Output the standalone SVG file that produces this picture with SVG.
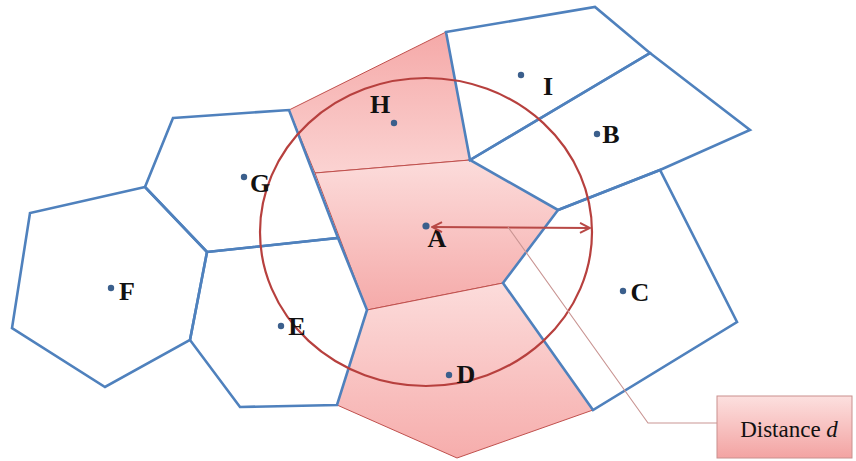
<svg xmlns="http://www.w3.org/2000/svg" width="856" height="461" viewBox="0 0 856 461">
<style>
.pink{stroke:#c0504d;stroke-width:1;stroke-linejoin:round}
.cell{fill:#ffffff;fill-opacity:0;stroke:#4f81bd;stroke-width:2.6;stroke-linejoin:miter}
.dot{fill:#3b5f8c}
.lbl{font-family:"Liberation Serif","Times New Roman",serif;font-weight:bold;font-size:26px;fill:#111;text-anchor:middle}
.ring{fill:none;stroke:#b7403e;stroke-width:2.2}
.con{fill:none;stroke:#b84946;stroke-width:2.2}
.lead{fill:none;stroke:#c99593;stroke-width:1.1}
</style>
<defs>
<linearGradient id="gH" x1="0" y1="0" x2="0" y2="1"><stop offset="0" stop-color="#f5a9a8"/><stop offset="1" stop-color="#fbd3d2"/></linearGradient>
<linearGradient id="gA" x1="0" y1="0" x2="0" y2="1"><stop offset="0" stop-color="#fcdcdb"/><stop offset="1" stop-color="#f5aaa9"/></linearGradient>
<linearGradient id="gD" x1="0" y1="0" x2="0" y2="1"><stop offset="0" stop-color="#fcdcdb"/><stop offset="1" stop-color="#f6adac"/></linearGradient>
<linearGradient id="gBox" x1="0" y1="0" x2="0" y2="1"><stop offset="0" stop-color="#fce0df"/><stop offset="1" stop-color="#f3a3a2"/></linearGradient>
<marker id="ah" viewBox="0 0 12 12" refX="11" refY="6" markerWidth="12" markerHeight="12" markerUnits="userSpaceOnUse" orient="auto-start-reverse">
<polyline points="1,1 11,6 1,11" fill="none" stroke="#b84946" stroke-width="2"/>
</marker>
</defs>

<g id="cell-H"><polygon class="pink" fill="url(#gH)" points="289,110 446,32 470,160 315,173"/></g>
<g id="cell-A"><polygon class="pink" fill="url(#gA)" points="315,173 470,160 558,210 503,283 367,310"/></g>
<g id="cell-D"><polygon class="pink" fill="url(#gD)" points="367,310 503,283 593,410 457,458 337,405"/></g>
<g id="cell-I"><polygon class="cell" points="446,32 595,7 650,53 470,160"/></g>
<g id="cell-B"><polygon class="cell" points="470,160 650,53 750,130 660,170 558,210"/></g>
<g id="cell-C"><polygon class="cell" points="558,210 660,170 737,322 593,410 503,283"/></g>
<g id="cell-G"><polygon class="cell" points="173,118 289,110 338,238 207,252 145,187"/></g>
<g id="cell-F"><polygon class="cell" points="145,187 30,213 12,328 105,387 190,340 207,252"/></g>
<g id="cell-E"><polygon class="cell" points="207,252 338,238 367,310 337,405 240,407 190,340"/></g>

<ellipse id="range" class="ring" cx="426" cy="232" rx="166" ry="154"/>

<g id="sites">
<g id="site-H"><circle class="dot" cx="394" cy="123" r="3.2"/><text class="lbl" x="380" y="113">H</text></g>
<g id="site-I"><circle class="dot" cx="521" cy="75" r="3.2"/><text class="lbl" x="548" y="95">I</text></g>
<g id="site-B"><circle class="dot" cx="597" cy="134" r="3.2"/><text class="lbl" x="611" y="143">B</text></g>
<g id="site-G"><circle class="dot" cx="244" cy="177" r="3.2"/><text class="lbl" x="260" y="192">G</text></g>
<g id="site-F"><circle class="dot" cx="111" cy="288" r="3.2"/><text class="lbl" x="127" y="300">F</text></g>
<g id="site-E"><circle class="dot" cx="281" cy="326" r="3.2"/><text class="lbl" x="297" y="335">E</text></g>
<g id="site-A"><circle class="dot" cx="426" cy="226" r="3.6"/><text class="lbl" x="437" y="247">A</text></g>
<g id="site-D"><circle class="dot" cx="449" cy="375" r="3.2"/><text class="lbl" x="466" y="383">D</text></g>
<g id="site-C"><circle class="dot" cx="623" cy="291" r="3.2"/><text class="lbl" x="640" y="301">C</text></g>
</g>

<g id="connectors">
<line class="con" x1="432" y1="227" x2="590" y2="228" marker-start="url(#ah)" marker-end="url(#ah)"/>
<polyline class="lead" points="508,227 648,423 717,423"/>
</g>

<g id="callout">
<rect x="717" y="396" width="135" height="62" fill="url(#gBox)" stroke="#c9908e" stroke-width="1"/>
<text x="789" y="437" font-family="'Liberation Serif','Times New Roman',serif" font-size="23" fill="#111" text-anchor="middle">Distance <tspan font-style="italic">d</tspan></text>
</g>
</svg>
